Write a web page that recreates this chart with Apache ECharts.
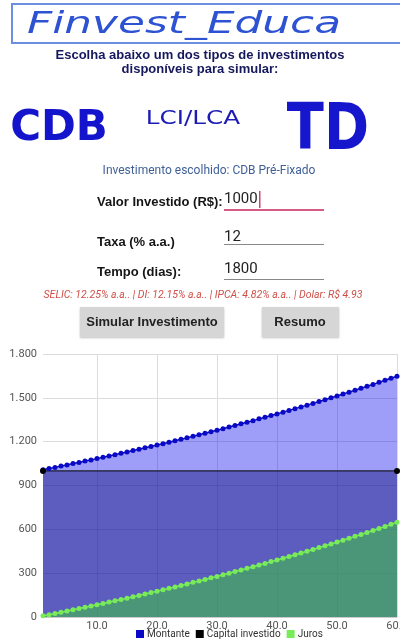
<!DOCTYPE html>
<html>
<head>
<meta charset="utf-8">
<script src="https://cdn.jsdelivr.net/npm/echarts@6/dist/echarts.min.js"></script>
<style>
  html, body { margin: 0; padding: 0; background: #fff; }
  #chart { width: 400px; height: 639px; }
</style>
</head>
<body>
<div id="chart"></div>
<script>
// meses (1..60) e valores
const months = [1,2,3,4,5,6,7,8,9,10,11,12,13,14,15,16,17,18,19,20,21,22,23,24,25,26,27,28,29,30,
  31,32,33,34,35,36,37,38,39,40,41,42,43,44,45,46,47,48,49,50,51,52,53,54,55,56,57,58,59,60];
const montante = [1008,1016,1024,1033,1041,1050,1058,1067,1075,1084,1093,1102,1111,1120,1129,1139,1148,1158,1167,1177,1186,1196,1206,1216,
  1226,1237,1247,1257,1268,1278,1289,1300,1311,1322,1333,1344,1356,1367,1379,1390,1402,1414,1426,1438,1450,1462,1475,1487,
  1500,1513,1526,1539,1552,1565,1579,1592,1606,1620,1634,1648];
const juros = [8,16,24,33,41,50,58,67,75,84,93,102,111,120,129,139,148,158,167,177,186,196,206,216,
  226,237,247,257,268,278,289,300,311,322,333,344,356,367,379,390,402,414,426,438,450,462,475,487,
  500,513,526,539,552,565,579,592,606,620,634,648];
const capitalMonths = [1, 60];
const capital = [1000, 1000];
const xTicks = [10, 20, 30, 40, 50, 60];
const seriesNames = ["Montante", "Capital investido", "Juros"];

const chart = echarts.init(document.getElementById("chart"), null, { renderer: "canvas" });

const pair = (xs, ys) => xs.map((x, i) => [x, ys[i]]);
const txt = (x, y, text, font, fill, align, extra) => Object.assign({
  type: "text", x, y, silent: true,
  style: { text, font, fill, align: align || "left", textAlign: align || "left", verticalAlign: "middle", textVerticalAlign: "middle" },
}, extra || {});

chart.setOption({
  backgroundColor: "#fff",
  animation: false,
  graphic: [
    // cabeçalho
    { type: "rect", shape: { x: 12, y: 4, width: 400, height: 39 }, style: { fill: "#fff", stroke: "#6c8fe2", lineWidth: 2 } },
    txt(27, 25, "Finvest_Educa", "italic 30px 'DejaVu Sans'", "#2d52d2", "left", { scaleX: 1.46 }),
    txt(200, 55, "Escolha abaixo um dos tipos de investimentos", "bold 13px 'Liberation Sans'", "#16185e", "center"),
    txt(200, 69, "disponíveis para simular:", "bold 13px 'Liberation Sans'", "#16185e", "center"),
    txt(59, 129, "CDB", "bold 42px 'DejaVu Sans'", "#1414cc", "center"),
    txt(193, 119, "LCI/LCA", "19px 'DejaVu Sans'", "#1c1cb4", "center", { scaleX: 1.3 }),
    txt(328, 132, "TD", "bold 64px 'DejaVu Sans'", "#1616cc", "center", { scaleX: 0.85 }),
    txt(209, 171, "Investimento escolhido: CDB Pré-Fixado", "12px Roboto", "#3f5f96", "center"),
    // campos
    txt(97, 202, "Valor Investido (R$):", "bold 13px 'Liberation Sans'", "#151515"),
    txt(224, 199, "1000", "15px Roboto", "#222"),
    { type: "rect", shape: { x: 259, y: 191, width: 1.5, height: 17 }, style: { fill: "#d2456f" } },
    { type: "rect", shape: { x: 224, y: 209, width: 100, height: 2 }, style: { fill: "#d65a84" } },
    txt(97, 242, "Taxa (% a.a.)", "bold 13px 'Liberation Sans'", "#151515"),
    txt(224, 237, "12", "15px Roboto", "#222"),
    { type: "rect", shape: { x: 224, y: 244, width: 100, height: 1 }, style: { fill: "#888" } },
    txt(97, 272, "Tempo (dias):", "bold 13px 'Liberation Sans'", "#151515"),
    txt(224, 269, "1800", "15px Roboto", "#222"),
    { type: "rect", shape: { x: 224, y: 279, width: 100, height: 1 }, style: { fill: "#888" } },
    txt(203, 295, "SELIC: 12.25% a.a.. | DI: 12.15% a.a.. | IPCA: 4.82% a.a.. | Dolar: R$ 4.93", "italic 10.5px Roboto", "#cf4f48", "center"),
    // botões
    { type: "rect", shape: { x: 80, y: 307, width: 144, height: 30 }, style: { fill: "#d6d6d6", shadowBlur: 2, shadowColor: "rgba(0,0,0,0.25)", shadowOffsetY: 1 } },
    txt(152, 322, "Simular Investimento", "bold 13px 'Liberation Sans'", "#222", "center"),
    { type: "rect", shape: { x: 262, y: 307, width: 77, height: 30 }, style: { fill: "#d6d6d6", shadowBlur: 2, shadowColor: "rgba(0,0,0,0.25)", shadowOffsetY: 1 } },
    txt(300, 322, "Resumo", "bold 13px 'Liberation Sans'", "#222", "center"),
  ],
  grid: { left: 43, top: 354, width: 354, height: 263, outerBoundsMode: "none", containLabel: false },
  legend: {
    data: seriesNames,
    left: 131, top: 624,
    icon: "rect", itemWidth: 8, itemHeight: 8, itemGap: 6,
    textStyle: { color: "#333", fontSize: 10, fontFamily: "Roboto", padding: [0, 0, 0, -2] },
  },
  xAxis: {
    type: "value", min: 1, max: 60,
    axisLine: { show: true, lineStyle: { color: "#ccc" } },
    axisTick: { show: false, customValues: xTicks },
    axisLabel: { customValues: xTicks, color: "#555", fontSize: 11, fontFamily: "Roboto", margin: 4, formatter: (v) => v.toFixed(1) },
    splitLine: { show: true, lineStyle: { color: "#dcdcdc", width: 1 } },
  },
  yAxis: {
    type: "value", min: 0, max: 1800, interval: 300,
    axisLine: { show: false }, axisTick: { show: false },
    axisLabel: { color: "#555", fontSize: 11, fontFamily: "Roboto", margin: 6,
      formatter: (v) => v >= 1000 ? Math.floor(v / 1000) + "." + String(v % 1000).padStart(3, "0") : String(v) },
    splitLine: { show: true, lineStyle: { color: "#dcdcdc", width: 1 } },
  },
  series: [
    {
      name: seriesNames[0], type: "line", data: pair(months, montante),
      symbol: "circle", symbolSize: 5, showAllSymbol: true,
      itemStyle: { color: "#0a0ac6" }, lineStyle: { color: "#0a0ac6", width: 1.5 },
      areaStyle: { color: "rgba(0,0,240,0.38)", opacity: 1 },
    },
    {
      name: seriesNames[1], type: "line", data: pair(capitalMonths, capital),
      symbol: "circle", symbolSize: 6,
      itemStyle: { color: "#000" }, lineStyle: { color: "#000", width: 1 },
      areaStyle: { color: "rgba(27,27,135,0.5)", opacity: 1 },
    },
    {
      name: seriesNames[2], type: "line", data: pair(months, juros),
      symbol: "circle", symbolSize: 5, showAllSymbol: true,
      itemStyle: { color: "#78ec58" }, lineStyle: { color: "#78ec58", width: 1.5 },
      areaStyle: { color: "rgba(64,187,72,0.6)", opacity: 1 },
    },
  ],
});
</script>
</body>
</html>
